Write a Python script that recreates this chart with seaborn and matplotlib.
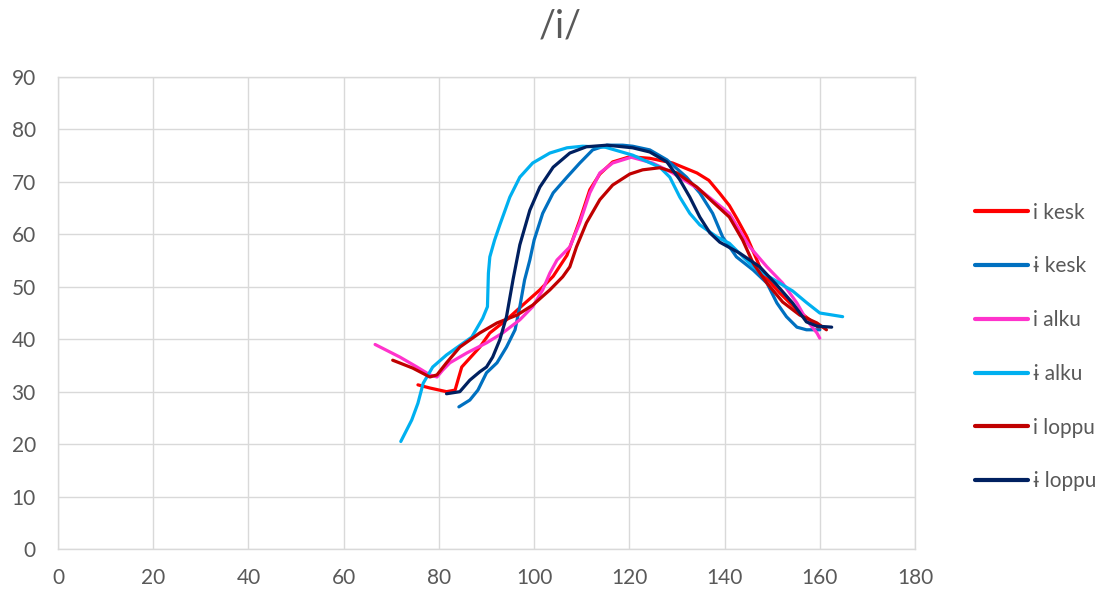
import matplotlib
matplotlib.use("Agg")
import matplotlib.pyplot as plt
import seaborn as sns
import pandas as pd

# ---- data ----
i_kesk_x = [75.6, 78.1, 81.6, 83.4, 84.0, 84.8, 86.5, 88.6, 90.7, 94.2, 97.6, 101.2, 104.0, 106.9,
            109.6, 111.7, 113.8, 116.5, 120.1, 124.3, 129.1, 134.2, 136.7, 139.0, 141.0, 142.6,
            144.7, 146.8, 148.0, 151.6, 155.2, 157.9, 160.0]
i_kesk_y = [31.3, 30.7, 30.0, 30.3, 32.2, 34.7, 36.4, 38.5, 41.2, 43.7, 46.5, 49.4, 52.0, 56.0,
            62.7, 68.5, 71.5, 73.8, 74.8, 74.5, 73.6, 71.7, 70.3, 67.8, 65.5, 63.0,
            59.5, 55.1, 52.5, 48.8, 45.6, 43.7, 42.0]

y_kesk_x = [84.2, 86.5, 88.2, 90.0, 92.2, 94.2, 96.0, 97.0, 98.0, 99.1, 100.0, 101.8, 104.0, 106.9,
            109.6, 112.3, 115.3, 118.6, 120.7, 124.3, 127.9, 132.0, 134.8, 137.5, 139.6, 142.5,
            146.0, 148.9, 151.0, 153.0, 155.2, 157.2, 160.0]
y_kesk_y = [27.1, 28.4, 30.3, 33.6, 35.5, 38.5, 41.8, 46.2, 51.3, 55.1, 58.9, 64.0, 67.9, 70.9,
            73.6, 76.1, 77.0, 77.0, 76.8, 76.1, 74.2, 70.9, 67.9, 64.0, 59.5, 55.7,
            53.2, 50.7, 46.9, 44.3, 42.3, 41.8, 41.8]

i_alku_x = [66.6, 71.8, 75.4, 78.1, 79.6, 80.8, 82.3, 85.9, 90.0, 93.4, 97.0, 99.7, 101.8, 103.3,
            104.8, 107.5, 109.6, 111.7, 113.8, 116.5, 120.4, 124.9, 129.1, 134.8, 141.0, 145.3,
            148.9, 152.2, 155.2, 157.2, 159.4, 160.0]
i_alku_y = [39.0, 36.6, 34.7, 33.2, 32.8, 34.1, 35.5, 37.4, 39.3, 41.2, 43.7, 46.2, 49.4, 52.6,
            55.1, 57.6, 62.2, 67.9, 71.7, 73.6, 74.7, 73.6, 71.7, 68.5, 64.0, 57.6,
            53.8, 50.7, 46.9, 43.7, 41.2, 40.2]

y_alku_x = [72.0, 74.3, 75.6, 76.7, 78.7, 81.6, 86.9, 89.2, 90.2, 90.4, 90.7, 91.7, 92.8, 94.9,
            97.0, 99.7, 103.3, 106.9, 110.2, 115.0, 120.7, 126.4, 128.5, 130.6, 132.7, 134.8,
            138.4, 141.0, 146.0, 151.0, 154.3, 157.2, 160.0, 164.8]
y_alku_y = [20.5, 24.6, 27.8, 31.6, 34.7, 37.0, 40.4, 44.0, 46.2, 52.6, 55.7, 58.9, 61.8, 67.1,
            70.9, 73.6, 75.5, 76.5, 76.8, 76.6, 75.1, 72.8, 70.9, 67.1, 64.0, 61.8,
            59.5, 58.3, 53.8, 51.0, 49.2, 47.0, 45.0, 44.3]

i_loppu_x = [70.3, 74.5, 78.1, 79.6, 81.6, 84.4, 88.6, 92.2, 96.4, 99.7, 103.3, 106.0, 107.5, 108.9,
             111.0, 113.8, 116.5, 120.1, 122.8, 126.4, 130.0, 134.2, 137.5, 141.0, 143.8, 146.0,
             148.9, 152.2, 155.8, 159.4, 161.4]
i_loppu_y = [36.0, 34.5, 32.8, 33.2, 35.5, 38.5, 41.2, 43.1, 44.6, 46.5, 49.4, 51.9, 53.8, 57.6,
             62.2, 66.6, 69.4, 71.5, 72.3, 72.7, 71.7, 69.0, 66.2, 63.3, 58.9, 54.5,
             50.7, 47.1, 44.6, 43.1, 41.8]

y_loppu_x = [81.6, 84.4, 86.5, 88.6, 90.0, 91.3, 92.8, 94.2, 95.6, 97.0, 99.1, 101.2, 104.0, 107.5,
             111.0, 115.3, 120.7, 124.3, 127.9, 130.6, 132.7, 134.8, 136.9, 139.0, 143.2, 147.4,
             151.0, 154.3, 157.2, 159.4, 162.5]
y_loppu_y = [29.6, 30.0, 32.2, 33.8, 34.7, 36.6, 39.9, 44.3, 51.5, 58.0, 64.6, 69.0, 72.8, 75.5,
             76.7, 77.0, 76.5, 75.7, 73.8, 70.4, 67.1, 63.3, 60.3, 58.5, 56.4, 53.8,
             50.3, 46.9, 43.3, 42.5, 42.3]

series_names = ["i kesk", "ɨ kesk", "i alku", "ɨ alku", "i loppu", "ɨ loppu"]
series_x = [i_kesk_x, y_kesk_x, i_alku_x, y_alku_x, i_loppu_x, y_loppu_x]
series_y = [i_kesk_y, y_kesk_y, i_alku_y, y_alku_y, i_loppu_y, y_loppu_y]
colors = ["#FF0000", "#0070C0", "#FF33CC", "#00B0F0", "#C00000", "#002060"]

x_ticks = list(range(0, 181, 20))
y_ticks = list(range(0, 91, 10))
title = "/i/"

frames = []
for name, xs, ys in zip(series_names, series_x, series_y):
    frames.append(pd.DataFrame({"x": xs, "y": ys, "series": name, "order": range(len(xs))}))
df = pd.concat(frames, ignore_index=True)

sns.set_theme(style="white")
plt.rcParams["font.family"] = ["Lato", "DejaVu Sans"]

fig = plt.figure(figsize=(11.09, 5.94), dpi=100)
ax = fig.add_axes([58 / 1109, 1 - 549 / 594, (915 - 58) / 1109, (549 - 77) / 594])

sns.lineplot(data=df, x="x", y="y", hue="series", hue_order=series_names,
             palette=colors, sort=False, estimator=None, units="series",
             linewidth=2.3, ax=ax, legend=True)

ax.set_xlim(0, 180)
ax.set_ylim(0, 90)
ax.set_xticks(x_ticks)
ax.set_yticks(y_ticks)
ax.grid(True, color="#D9D9D9", linewidth=1.0)
ax.set_axisbelow(True)
for s in ax.spines.values():
    s.set_visible(True)
    s.set_color("#D9D9D9")
    s.set_linewidth(1.0)
ax.tick_params(axis="both", length=0, labelsize=15, labelcolor="#595959")
ax.tick_params(axis="x", pad=14)
ax.tick_params(axis="y", pad=16)
ax.set_xlabel("")
ax.set_ylabel("")

handles, labels = ax.get_legend_handles_labels()
for h in handles:
    h.set_linewidth(3.0)
leg = ax.legend(handles, labels, loc="center left", bbox_to_anchor=(956 / 1109, 1 - 347 / 594),
                bbox_transform=fig.transFigure, frameon=False, fontsize=15,
                handlelength=2.55, handletextpad=0.25, labelspacing=1.62)
for t in leg.get_texts():
    t.set_color("#595959")

fig.suptitle(title, x=0.505, y=0.985, fontsize=27, color="#595959", va="top")

fig.savefig("out.png", dpi=100)
